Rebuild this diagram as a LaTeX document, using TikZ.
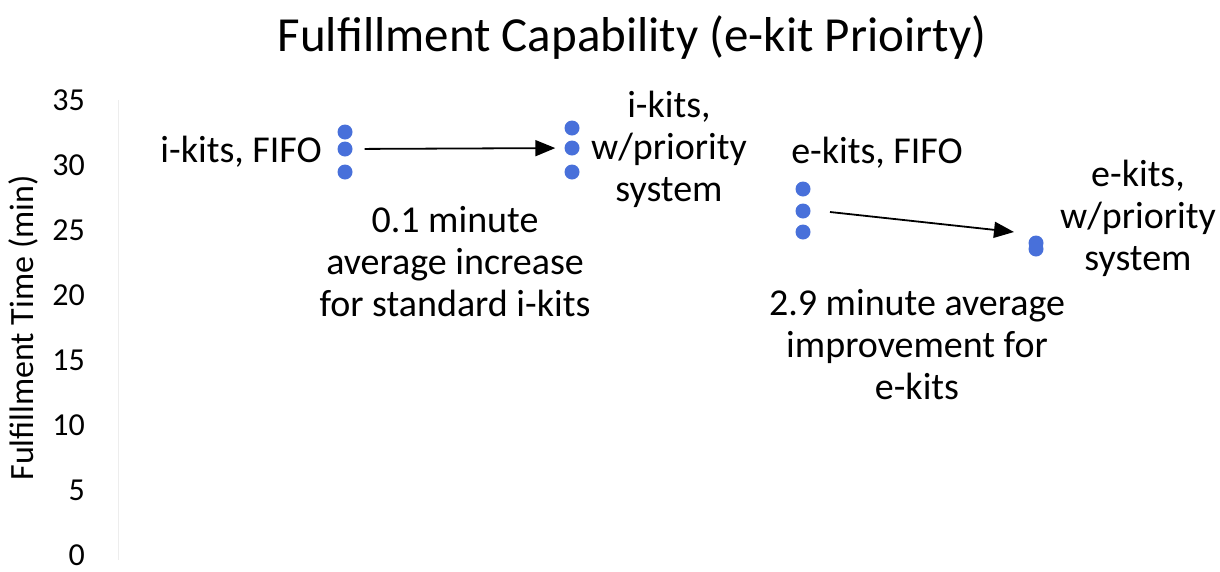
\documentclass[tikz,border=0pt]{standalone}
\usepackage{fontspec}
\setmainfont{Carlito}
\usetikzlibrary{arrows.meta}
\definecolor{dotblue}{RGB}{72,112,218}
\begin{document}
\begin{tikzpicture}[x=1pt,y=-1pt,
  dot/.style={circle,fill=dotblue,inner sep=0pt,minimum size=15pt},
  lbl/.style={font=\fontsize{38}{42}\selectfont,align=center,inner sep=0pt},
  tick/.style={font=\fontsize{32}{38}\selectfont,anchor=east,inner sep=0pt},
  arr/.style={line width=1.8pt,-{Triangle[length=20pt,width=16pt]}}]
\useasboundingbox (0,0) rectangle (1220,571);

% title
\node[font=\fontsize{49}{56}\selectfont,inner sep=0pt] (title) at (632,38) {Fulfillment Capability (e-kit Prioirty)};

% vertical axis
\draw[black!7,line width=1pt] (118,100) -- (118,560);
\foreach \v [count=\i] in {0,5,...,35}
  \node[tick] (t\i) at (85,{555-13*\v}) {\v};
\node[font=\fontsize{34}{40}\selectfont,rotate=90,inner sep=0pt] (ylab) at (23,328) {Fulfillment Time (min)};

% data points
\node[dot] (a1) at (345,132) {};
\node[dot] (a2) at (345,149) {};
\node[dot] (a3) at (345,172) {};
\node[dot] (b1) at (572,128) {};
\node[dot] (b2) at (572,148) {};
\node[dot] (b3) at (572,172) {};
\node[dot] (c1) at (803,189) {};
\node[dot] (c2) at (803,211) {};
\node[dot] (c3) at (803,232) {};
\node[dot] (d1) at (1036,243) {};
\node[dot] (d2) at (1036,249) {};

% labels
\node[lbl,anchor=east] (la) at (322,152) {i-kits, FIFO};
\node[lbl] (lb) at (669,149) {i-kits,\\w/priority\\system};
\node[lbl] (lab) at (455,262) {0.1 minute\\average increase\\for standard i-kits};
\node[lbl] (lc) at (877,153) {e-kits, FIFO};
\node[lbl] (ld) at (1138,218) {e-kits,\\w/priority\\system};
\node[lbl] (lcd) at (917,345) {2.9 minute average\\improvement for\\e-kits};

% arrows
\draw[arr,shorten <=12pt,shorten >=9pt] (a2) -- (b2);
\coordinate (s2) at (830,212);
\coordinate (e2) at (1014,232);
\draw[arr] (s2) -- (e2);
\end{tikzpicture}
\end{document}
